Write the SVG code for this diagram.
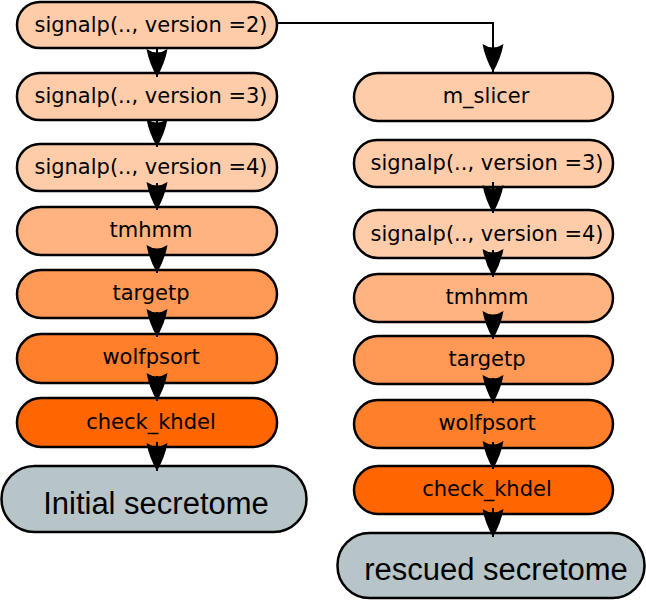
<svg xmlns="http://www.w3.org/2000/svg" width="646" height="600" viewBox="0 0 646 600">
<style>
.n{stroke:#000;stroke-width:2.5}
.t{font-family:"DejaVu Sans",sans-serif;font-size:21px;fill:#000;text-anchor:middle}
.b{font-family:"Liberation Sans",Arial,sans-serif;font-size:31px;fill:#000;text-anchor:middle}
.c1{fill:#ffccaa}.c2{fill:#ffb380}.c3{fill:#ff9955}.c4{fill:#ff7f2a}.c5{fill:#ff6600}.g{fill:#b7c4c8}
.e{fill:none;stroke:#000;stroke-width:2;marker-end:url(#ah)}
</style>
<defs>
<marker id="ah" markerUnits="userSpaceOnUse" markerWidth="30" markerHeight="24" viewBox="0 -12 30 24" refX="28" refY="0" orient="auto">
<path d="M0,-10.5 Q7,0 0,10.5 Q14,8 28,0 Q14,-8 0,-10.5 Z" fill="#000"/>
</marker>
</defs>
<g id="L1"><rect class="n c1" x="17" y="2" width="260" height="46" rx="23"/><text class="t" x="151" y="32">signalp(.., version =2)</text></g>
<g id="L2"><rect class="n c1" x="17" y="73" width="260" height="47" rx="23"/><text class="t" x="151" y="103">signalp(.., version =3)</text></g>
<g id="L3"><rect class="n c1" x="17" y="144" width="260" height="47" rx="23"/><text class="t" x="151" y="174">signalp(.., version =4)</text></g>
<g id="L4"><rect class="n c2" x="17" y="207" width="260" height="48" rx="24"/><text class="t" x="151" y="237">tmhmm</text></g>
<g id="L5"><rect class="n c3" x="17" y="270" width="260" height="48" rx="24"/><text class="t" x="151" y="300">targetp</text></g>
<g id="L6"><rect class="n c4" x="17" y="334" width="260" height="49" rx="24"/><text class="t" x="151" y="364">wolfpsort</text></g>
<g id="L7"><rect class="n c5" x="17" y="398" width="260" height="49" rx="24"/><text class="t" x="151" y="429">check_khdel</text></g>
<g id="L8"><rect class="n g" x="1.5" y="466" width="305" height="66" rx="33"/><text class="b" x="156" y="514">Initial secretome</text></g>
<g id="R1"><rect class="n c1" x="354" y="73" width="259" height="48" rx="24"/><text class="t" x="486" y="103">m_slicer</text></g>
<g id="R2"><rect class="n c1" x="354" y="140" width="259" height="47" rx="23"/><text class="t" x="487" y="170">signalp(.., version =3)</text></g>
<g id="R3"><rect class="n c1" x="354" y="210" width="259" height="48" rx="24"/><text class="t" x="487" y="241">signalp(.., version =4)</text></g>
<g id="R4"><rect class="n c2" x="354" y="274" width="259" height="48" rx="24"/><text class="t" x="487" y="304">tmhmm</text></g>
<g id="R5"><rect class="n c3" x="354" y="336" width="259" height="48" rx="24"/><text class="t" x="487" y="366">targetp</text></g>
<g id="R6"><rect class="n c4" x="354" y="400" width="259" height="48" rx="24"/><text class="t" x="487" y="430">wolfpsort</text></g>
<g id="R7"><rect class="n c5" x="354" y="466" width="259" height="48" rx="24"/><text class="t" x="487" y="496">check_khdel</text></g>
<g id="R8"><rect class="n g" x="337.5" y="533" width="307" height="65" rx="32"/><text class="b" x="496" y="580">rescued secretome</text></g>
<g id="connectors">
<path class="e" d="M277,23 H493 V72"/>
<path class="e" d="M157,48 V77"/>
<path class="e" d="M157,120 V147"/>
<path class="e" d="M157,183 V210"/>
<path class="e" d="M157,250 V273"/>
<path class="e" d="M157,312 V337"/>
<path class="e" d="M157,376 V401"/>
<path class="e" d="M157,442 V471"/>
<path class="e" d="M493,182 V213"/>
<path class="e" d="M493,250 V277"/>
<path class="e" d="M493,315 V339"/>
<path class="e" d="M493,378 V403"/>
<path class="e" d="M493,442 V469"/>
<path class="e" d="M493,508 V537"/>
</g>
</svg>
